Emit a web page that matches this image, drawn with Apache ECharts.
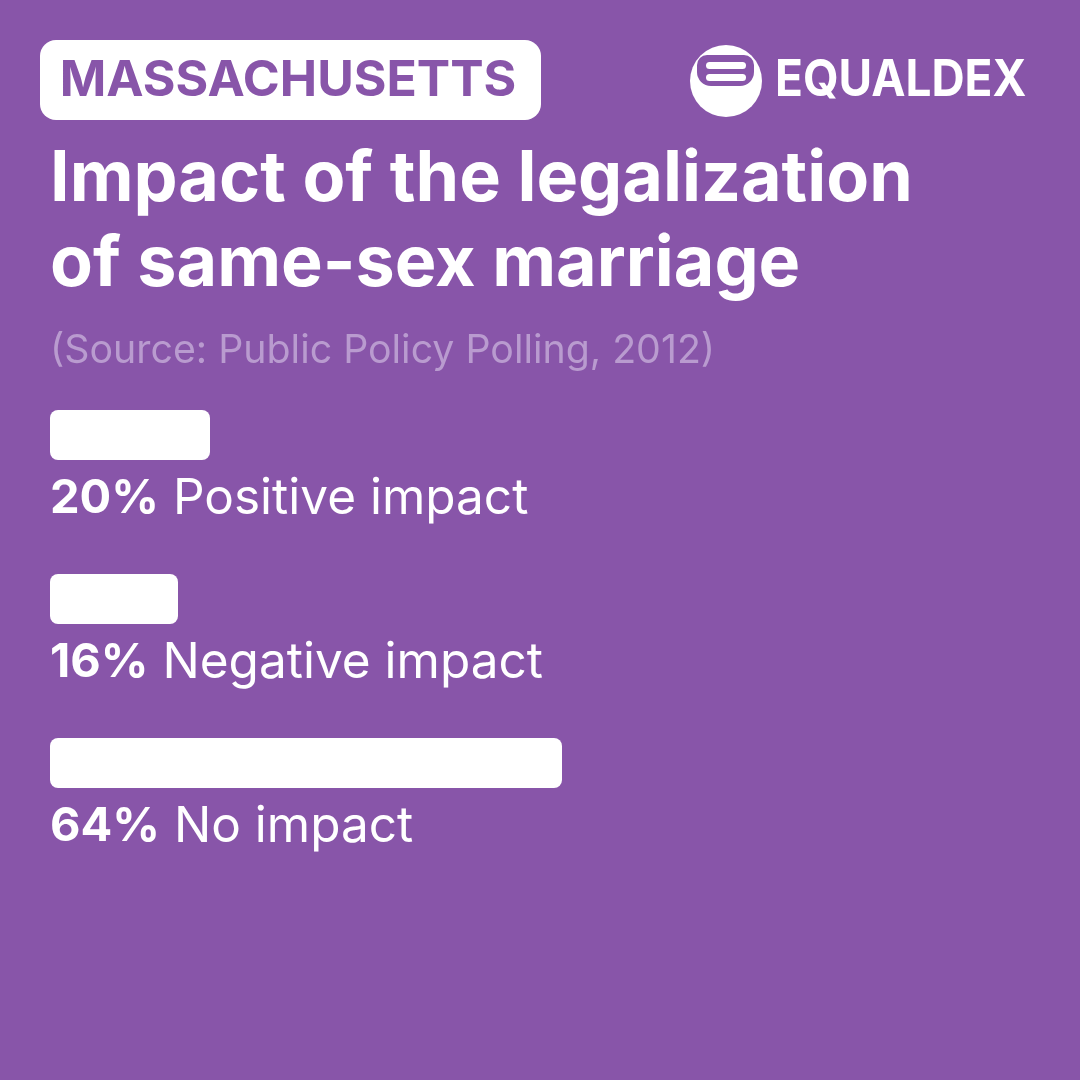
<!DOCTYPE html>
<html><head><meta charset="utf-8">
<script src="https://cdn.jsdelivr.net/npm/echarts@6/dist/echarts.min.js"></script>
<style>html,body{margin:0;padding:0;background:#8855A9}#c{width:1080px;height:1080px}</style>
</head><body><div id="c"></div>
<script>
const categories = ['Positive impact', 'Negative impact', 'No impact'];
const values = [20, 16, 64];
const stateName = 'MASSACHUSETTS';
const titleText = 'Impact of the legalization\nof same-sex marriage';
const sourceText = '(Source: Public Policy Polling, 2012)';

const BG = '#8855A9';
const chart = echarts.init(document.getElementById('c'), null, {renderer: 'canvas'});
chart.setOption({
  backgroundColor: BG,
  animation: false,
  title: [
    {text: titleText, left: 50, top: 137, padding: 0,
     textStyle: {color: '#fff', fontFamily: 'Inter', fontWeight: 700, fontSize: 70, lineHeight: 85}},
    {text: sourceText, left: 50, top: 332, padding: 0,
     textStyle: {color: '#B99BCF', fontFamily: 'Inter', fontWeight: 400, fontSize: 39.3}}
  ],
  grid: {left: 50, width: 800, top: 353, height: 492},
  xAxis: {type: 'value', min: 0, max: 100, show: false},
  yAxis: {type: 'category', data: categories, inverse: true, show: false},
  series: [{
    type: 'bar', data: values, barWidth: 50,
    itemStyle: {color: '#fff', borderRadius: 8},
    label: {
      show: true, position: [0, 59], align: 'left', verticalAlign: 'top',
      fontSize: 50, fontFamily: 'Inter', color: '#fff',
      formatter: p => '{b|' + p.value + '%}{n| ' + p.name + '}',
      rich: {
        b: {color: '#fff', fontFamily: 'Inter', fontWeight: 700, fontSize: 47, lineHeight: 60},
        n: {color: '#fff', fontFamily: 'Inter', fontWeight: 400, fontSize: 49.5, lineHeight: 60}
      }
    }
  }],
  graphic: [
    {type: 'rect', shape: {x: 40, y: 40, width: 501, height: 80, r: 16}, style: {fill: '#fff'}},
    {type: 'text', x: 288, y: 81, style: {text: stateName, fill: BG, font: '700 50px Inter', align: 'center', verticalAlign: 'middle'}},
    {type: 'circle', shape: {cx: 726, cy: 81, r: 36}, style: {fill: '#fff'}},
    {type: 'rect', shape: {x: 697, y: 55, width: 57, height: 31, r: [10, 10, 14, 14]}, style: {fill: BG}},
    {type: 'rect', shape: {x: 706, y: 62, width: 40, height: 7, r: 3.5}, style: {fill: '#fff'}},
    {type: 'rect', shape: {x: 706, y: 74, width: 40, height: 7, r: 3.5}, style: {fill: '#fff'}},
    {type: 'text', x: 775, y: 81, scaleX: 0.9, style: {text: 'EQUALDEX', fill: '#fff', font: '700 51px Inter', align: 'left', verticalAlign: 'middle'}}
  ]
});
</script></body></html>
